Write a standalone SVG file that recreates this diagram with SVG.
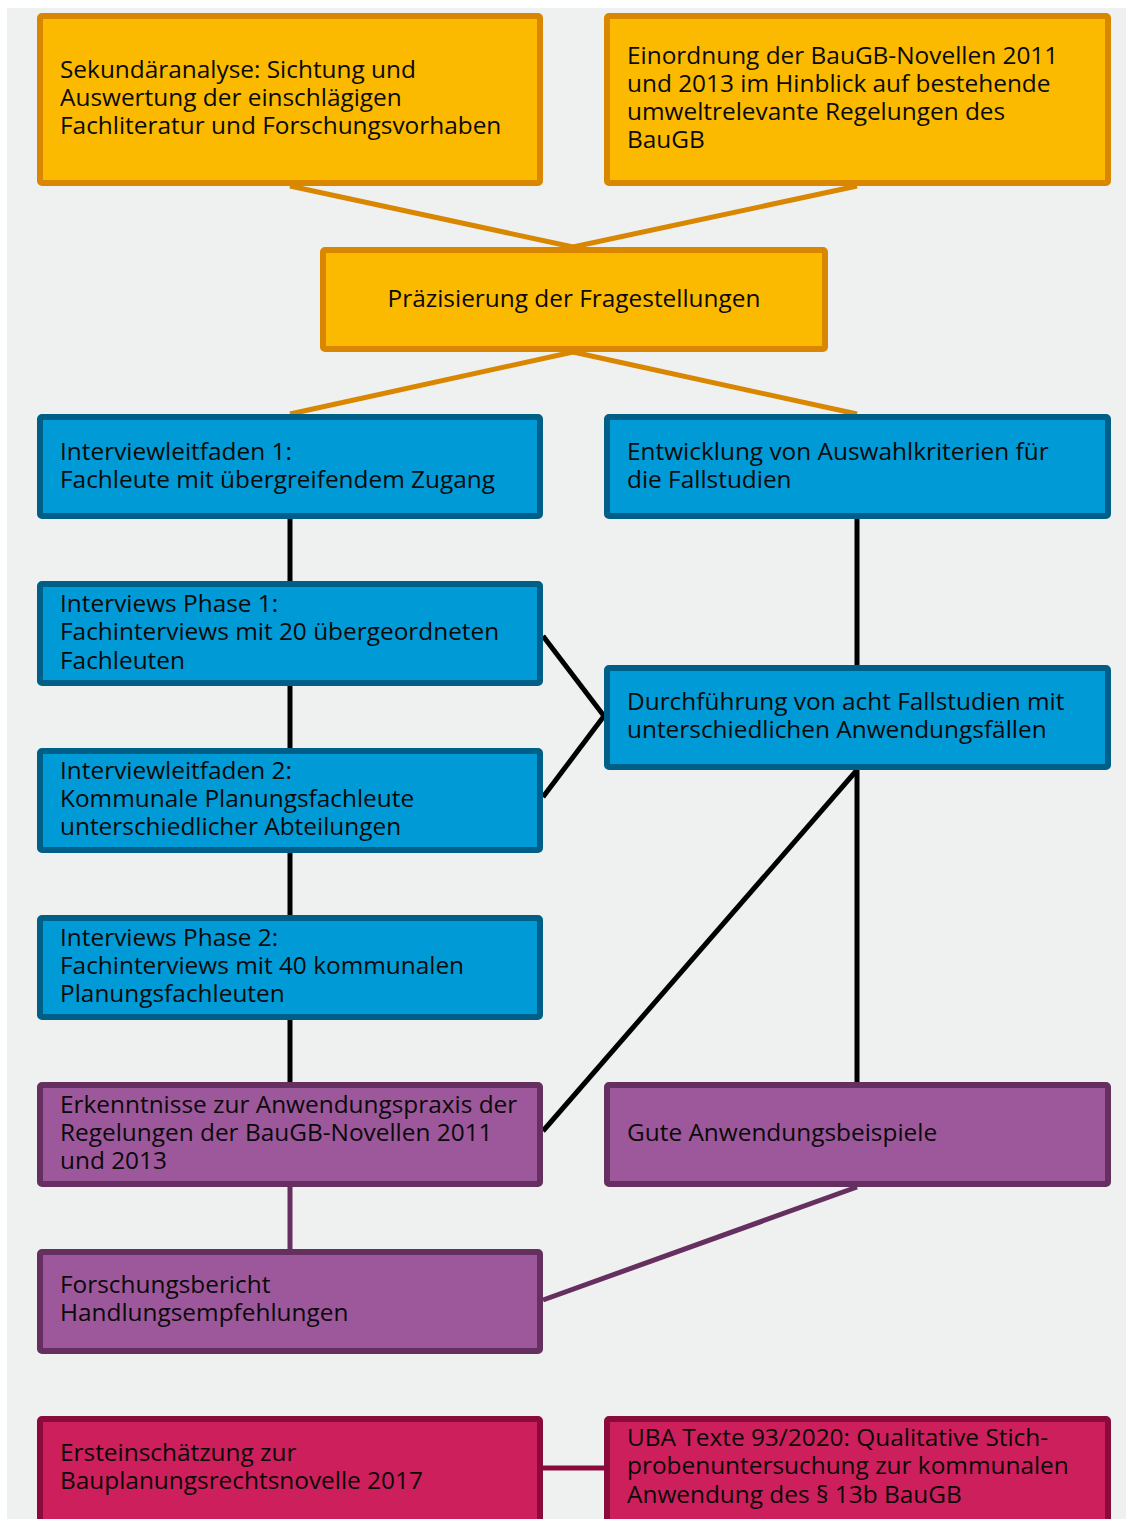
<svg xmlns="http://www.w3.org/2000/svg" width="1126" height="1519" viewBox="0 0 1126 1519">
<style>
text{font-family:"Open Sans","Noto Sans","DejaVu Sans",sans-serif;font-size:24.4px;fill:#0a0a0a}
.o{fill:#fbba00;stroke:#d98600;stroke-width:6}
.b{fill:#009ad6;stroke:#005f87;stroke-width:6}
.p{fill:#9d579b;stroke:#65305f;stroke-width:6}
.r{fill:#cd1f5b;stroke:#8a0a3c;stroke-width:6}
.lo{stroke:#d98600;stroke-width:5;fill:none}
.lk{stroke:#000;stroke-width:5;fill:none}
.lp{stroke:#65305f;stroke-width:5;fill:none}
.lr{stroke:#8a0a3c;stroke-width:5;fill:none}
</style>
<rect x="0" y="0" width="1126" height="1519" fill="#fff"/>
<rect x="7" y="8" width="1119" height="1511" fill="#eff0f0"/>
<g id="connectors">
<line class="lo" x1="290" y1="186" x2="573" y2="247"/>
<line class="lo" x1="857" y1="186" x2="573" y2="247"/>
<line class="lo" x1="573" y1="352" x2="290" y2="414"/>
<line class="lo" x1="573" y1="352" x2="857" y2="414"/>
<line class="lk" x1="290" y1="519" x2="290" y2="581"/>
<line class="lk" x1="290" y1="686" x2="290" y2="748"/>
<line class="lk" x1="290" y1="853" x2="290" y2="915"/>
<line class="lk" x1="290" y1="1020" x2="290" y2="1082"/>
<line class="lk" x1="857" y1="519" x2="857" y2="665"/>
<line class="lk" x1="857" y1="770" x2="857" y2="1082"/>
<line class="lk" x1="543" y1="636" x2="604" y2="716"/>
<line class="lk" x1="543" y1="797" x2="604" y2="716"/>
<line class="lk" x1="857" y1="770" x2="543" y2="1131"/>
<line class="lp" x1="290" y1="1187" x2="290" y2="1249"/>
<line class="lp" x1="857" y1="1187" x2="543" y2="1300"/>
<line class="lr" x1="543" y1="1468" x2="604" y2="1468"/>
</g>
<g id="n1"><rect class="o" x="40" y="16" width="500" height="167" rx="2"/>
<text x="60" y="78">Sekundäranalyse: Sichtung und</text><text x="60" y="106">Auswertung der einschlägigen</text><text x="60" y="134">Fachliteratur und Forschungsvorhaben</text></g>
<g id="n2"><rect class="o" x="607" y="16" width="501" height="167" rx="2"/>
<text x="627" y="64">Einordnung der BauGB-Novellen 2011</text><text x="627" y="92">und 2013 im Hinblick auf bestehende</text><text x="627" y="120">umweltrelevante Regelungen des</text><text x="627" y="148">BauGB</text></g>
<g id="n3"><rect class="o" x="323" y="250" width="502" height="99" rx="2"/>
<text x="574" y="307" text-anchor="middle">Präzisierung der Fragestellungen</text></g>
<g id="n4"><rect class="b" x="40" y="417" width="500" height="99" rx="2"/>
<text x="60" y="460">Interviewleitfaden 1:</text><text x="60" y="488">Fachleute mit übergreifendem Zugang</text></g>
<g id="n5"><rect class="b" x="607" y="417" width="501" height="99" rx="2"/>
<text x="627" y="460">Entwicklung von Auswahlkriterien für</text><text x="627" y="488">die Fallstudien</text></g>
<g id="n6"><rect class="b" x="40" y="584" width="500" height="99" rx="2"/>
<text x="60" y="612">Interviews Phase 1:</text><text x="60" y="640">Fachinterviews mit 20 übergeordneten</text><text x="60" y="669">Fachleuten</text></g>
<g id="n7"><rect class="b" x="607" y="668" width="501" height="99" rx="2"/>
<text x="627" y="710">Durchführung von acht Fallstudien mit</text><text x="627" y="738">unterschiedlichen Anwendungsfällen</text></g>
<g id="n8"><rect class="b" x="40" y="751" width="500" height="99" rx="2"/>
<text x="60" y="779">Interviewleitfaden 2:</text><text x="60" y="807">Kommunale Planungsfachleute</text><text x="60" y="835">unterschiedlicher Abteilungen</text></g>
<g id="n9"><rect class="b" x="40" y="918" width="500" height="99" rx="2"/>
<text x="60" y="946">Interviews Phase 2:</text><text x="60" y="974">Fachinterviews mit 40 kommunalen</text><text x="60" y="1002">Planungsfachleuten</text></g>
<g id="n10"><rect class="p" x="40" y="1085" width="500" height="99" rx="2"/>
<text x="60" y="1113">Erkenntnisse zur Anwendungspraxis der</text><text x="60" y="1141">Regelungen der BauGB-Novellen 2011</text><text x="60" y="1169">und 2013</text></g>
<g id="n11"><rect class="p" x="607" y="1085" width="501" height="99" rx="2"/>
<text x="627" y="1141">Gute Anwendungsbeispiele</text></g>
<g id="n12"><rect class="p" x="40" y="1252" width="500" height="99" rx="2"/>
<text x="60" y="1293">Forschungsbericht</text><text x="60" y="1321">Handlungsempfehlungen</text></g>
<g id="n13"><rect class="r" x="40" y="1419" width="500" height="110" rx="2"/>
<text x="60" y="1461">Ersteinschätzung zur</text><text x="60" y="1489">Bauplanungsrechtsnovelle 2017</text></g>
<g id="n14"><rect class="r" x="607" y="1419" width="501" height="110" rx="2"/>
<text x="627" y="1446">UBA Texte 93/2020: Qualitative Stich-</text><text x="627" y="1474">probenuntersuchung zur kommunalen</text><text x="627" y="1503">Anwendung des § 13b BauGB</text></g>
</svg>
